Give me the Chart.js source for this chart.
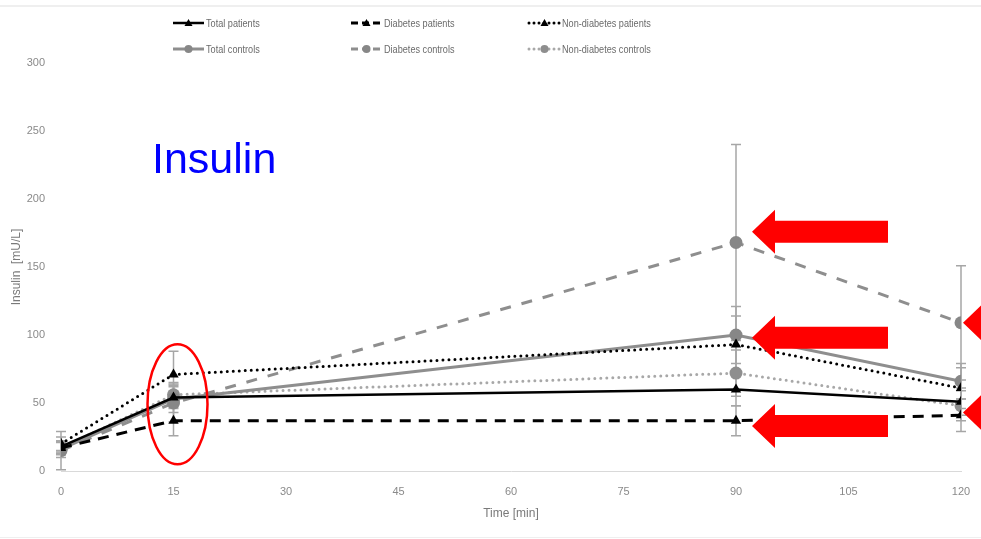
<!DOCTYPE html>
<html>
<head>
<meta charset="utf-8">
<script src="https://cdn.jsdelivr.net/npm/chart.js@4"></script>
<style>
  html, body { margin: 0; padding: 0; background: #fff; }
  canvas { display: block; }
</style>
</head>
<body>
<canvas id="chart" width="981" height="539"></canvas>
<script>
// Insulina durante la prueba de tolerancia (media ± DE)
const tiempos = [0, 15, 90, 120];
const xTicks = [0, 15, 30, 45, 60, 75, 90, 105, 120];

const nombres = [
  "Total patients", "Diabetes patients", "Non-diabetes patients",
  "Total controls", "Diabetes controls", "Non-diabetes controls"
];

const totalPatients      = [18, 54, 60, 51];
const diabetesPatients   = [17, 37, 37, 41];
const nonDiabPatients    = [20, 71, 93, 61];
const totalControls      = [16, 53, 100, 66];
const diabetesControls   = [15, 50, 168, 109];
const nonDiabControls    = [17, 56, 72, 48];

const sdTotalPatients    = [4, 8, 12, 10];
const sdDiabetesPatients = [4, 11, 11, 12];
const sdNonDiabPatients  = [5, 17, 21, 15];
const sdTotalControls    = [6, 10, 21, 13];
const sdDiabetesControls = [14, 14, 72, 42];
const sdNonDiabControls  = [5, 9, 17, 11];

const valores = [totalPatients, diabetesPatients, nonDiabPatients, totalControls, diabetesControls, nonDiabControls];
const desvios = [sdTotalPatients, sdDiabetesPatients, sdNonDiabPatients, sdTotalControls, sdDiabetesControls, sdNonDiabControls];

const estilos = [
  { color: "#000000", punto: "#000000", dash: [],      ancho: 2.5, forma: "triangle" },
  { color: "#000000", punto: "#000000", dash: [11, 8], ancho: 3,   forma: "triangle" },
  { color: "#000000", punto: "#000000", dash: [0, 6],  ancho: 3,   forma: "triangle" },
  { color: "#8e8e8e", punto: "#878787", dash: [],      ancho: 3,   forma: "circle" },
  { color: "#8e8e8e", punto: "#878787", dash: [11, 11],ancho: 3,   forma: "circle" },
  { color: "#a8a8a8", punto: "#8e8e8e", dash: [0, 6],  ancho: 3,   forma: "circle" }
];

// barras de error dibujadas con las escalas del grafico
const errorBars = {
  id: "errorBars",
  beforeDatasetsDraw(chart) {
    const { ctx, scales: { x, y } } = chart;
    ctx.save();
    ctx.strokeStyle = "#a6a6a6";
    ctx.lineWidth = 1.5;
    chart.data.datasets.forEach((ds, i) => {
      ds.data.forEach((p, j) => {
        const sd = desvios[i][j];
        const px = x.getPixelForValue(p.x);
        const y1 = y.getPixelForValue(Math.max(0, p.y - sd));
        const y2 = y.getPixelForValue(p.y + sd);
        ctx.beginPath();
        ctx.moveTo(px, y1); ctx.lineTo(px, y2);
        ctx.moveTo(px - 5, y1); ctx.lineTo(px + 5, y1);
        ctx.moveTo(px - 5, y2); ctx.lineTo(px + 5, y2);
        ctx.stroke();
      });
    });
    ctx.restore();
  }
};

// leyenda en rejilla de 3 columnas
const leyenda = {
  id: "leyenda",
  afterDraw(chart) {
    const ctx = chart.ctx;
    const colX = [173, 351, 529];
    const filaY = [23, 49];
    ctx.save();
    ctx.font = "11px 'Liberation Sans', sans-serif";
    ctx.textBaseline = "middle";
    chart.data.datasets.forEach((ds, i) => {
      const x0 = colX[i % 3], y0 = filaY[Math.floor(i / 3)];
      ctx.strokeStyle = ds.borderColor;
      ctx.lineWidth = ds.borderWidth;
      ctx.lineCap = ds.borderDash.length && ds.borderDash[0] === 0 ? "round" : "butt";
      ctx.setLineDash(ds.borderDash.length ? (ds.borderDash[0] === 0 ? [0, 5] : [7, 4]) : []);
      ctx.beginPath(); ctx.moveTo(x0, y0); ctx.lineTo(x0 + 31, y0); ctx.stroke();
      ctx.setLineDash([]);
      ctx.fillStyle = ds.pointBackgroundColor;
      ctx.beginPath();
      if (ds.pointStyle === "triangle") {
        ctx.moveTo(x0 + 15.5, y0 - 4); ctx.lineTo(x0 + 19.5, y0 + 3); ctx.lineTo(x0 + 11.5, y0 + 3);
      } else {
        ctx.arc(x0 + 15.5, y0, 4, 0, Math.PI * 2);
      }
      ctx.fill();
      // texto estrecho como en el original
      ctx.fillStyle = "#6b6b6b";
      ctx.save();
      ctx.translate(x0 + 33, y0 + 1);
      ctx.scale(0.83, 1);
      ctx.fillText(ds.label, 0, 0);
      ctx.restore();
    });
    ctx.restore();
  }
};

// anotaciones: titulo azul, elipse y flechas rojas
const anotaciones = {
  id: "anotaciones",
  beforeDraw(chart) {
    const ctx = chart.ctx;
    ctx.save();
    ctx.fillStyle = "#fff";
    ctx.fillRect(0, 0, chart.width, chart.height);
    ctx.fillStyle = "#efefef";
    ctx.fillRect(0, 5, chart.width, 2);
    ctx.fillRect(0, 537, chart.width, 1);
    ctx.restore();
  },
  afterDraw(chart) {
    const { ctx, scales: { x, y } } = chart;
    ctx.save();
    ctx.fillStyle = "#0000ff";
    ctx.font = "43px 'Liberation Sans', sans-serif";
    ctx.textBaseline = "alphabetic";
    ctx.fillText("Insulin", 152, 173);

    ctx.strokeStyle = "#ff0000";
    ctx.lineWidth = 2.5;
    ctx.beginPath();
    ctx.ellipse(x.getPixelForValue(15) + 4, y.getPixelForValue(49), 30, 60, 0, 0, Math.PI * 2);
    ctx.stroke();

    ctx.fillStyle = "#ff0000";
    const flechas = [[90, 176, 16], [90, 98, 16], [90, 33, 16], [120, 109, 2], [120, 43, 2]];
    flechas.forEach(([vx, vy, dx]) => {
      const tx = x.getPixelForValue(vx) + dx, ty = y.getPixelForValue(vy);
      ctx.beginPath();
      ctx.moveTo(tx, ty);
      ctx.lineTo(tx + 23, ty - 22);
      ctx.lineTo(tx + 23, ty - 11);
      ctx.lineTo(tx + 136, ty - 11);
      ctx.lineTo(tx + 136, ty + 11);
      ctx.lineTo(tx + 23, ty + 11);
      ctx.lineTo(tx + 23, ty + 22);
      ctx.closePath();
      ctx.fill();
    });
    ctx.restore();
  }
};

const datasets = nombres.map((nombre, i) => ({
  label: nombre,
  data: tiempos.map((t, j) => ({ x: t, y: valores[i][j] })),
  borderColor: estilos[i].color,
  borderWidth: estilos[i].ancho,
  borderDash: estilos[i].dash,
  borderCapStyle: estilos[i].dash[0] === 0 ? "round" : "butt",
  pointStyle: estilos[i].forma,
  pointRadius: estilos[i].forma === "triangle" ? 6 : 6.5,
  pointBackgroundColor: estilos[i].punto,
  pointBorderColor: estilos[i].punto,
  pointBorderWidth: 0,
  tension: 0,
  fill: false
}));

const grisTexto = "#8a8a8a";

new Chart(document.getElementById("chart").getContext("2d"), {
  type: "line",
  data: { datasets },
  options: {
    responsive: false,
    animation: false,
    layout: { padding: { left: 0, right: 20, top: 63, bottom: 0 } },
    plugins: { legend: { display: false }, tooltip: { enabled: false } },
    scales: {
      x: {
        type: "linear", min: 0, max: 120,
        afterBuildTicks: (s) => { s.ticks = xTicks.map((v) => ({ value: v })); },
        afterFit: (s) => { s.height = 68; s.paddingLeft = 0; s.paddingRight = 0; },
        grid: { display: false, drawTicks: false },
        border: { display: true, color: "#d9d9d9", width: 1 },
        ticks: { color: grisTexto, font: { size: 11, family: "'Liberation Sans', sans-serif" }, padding: 14, maxRotation: 0 },
        title: { display: true, text: "Time [min]", color: "#7a7a7a", font: { size: 12, family: "'Liberation Sans', sans-serif" }, padding: { top: 0, bottom: 18 } }
      },
      y: {
        min: 0, max: 300,
        ticks: { stepSize: 50, color: grisTexto, font: { size: 11, family: "'Liberation Sans', sans-serif" }, padding: 16 },
        afterFit: (s) => { s.width = 61; },
        grid: { display: false, drawTicks: false },
        border: { display: false },
        title: { display: true, text: "Insulin  [mU/L]", color: "#7a7a7a", font: { size: 12, family: "'Liberation Sans', sans-serif" }, padding: { top: 9, bottom: 0 } }
      }
    }
  },
  plugins: [anotaciones, errorBars, leyenda]
});
</script>
</body>
</html>
